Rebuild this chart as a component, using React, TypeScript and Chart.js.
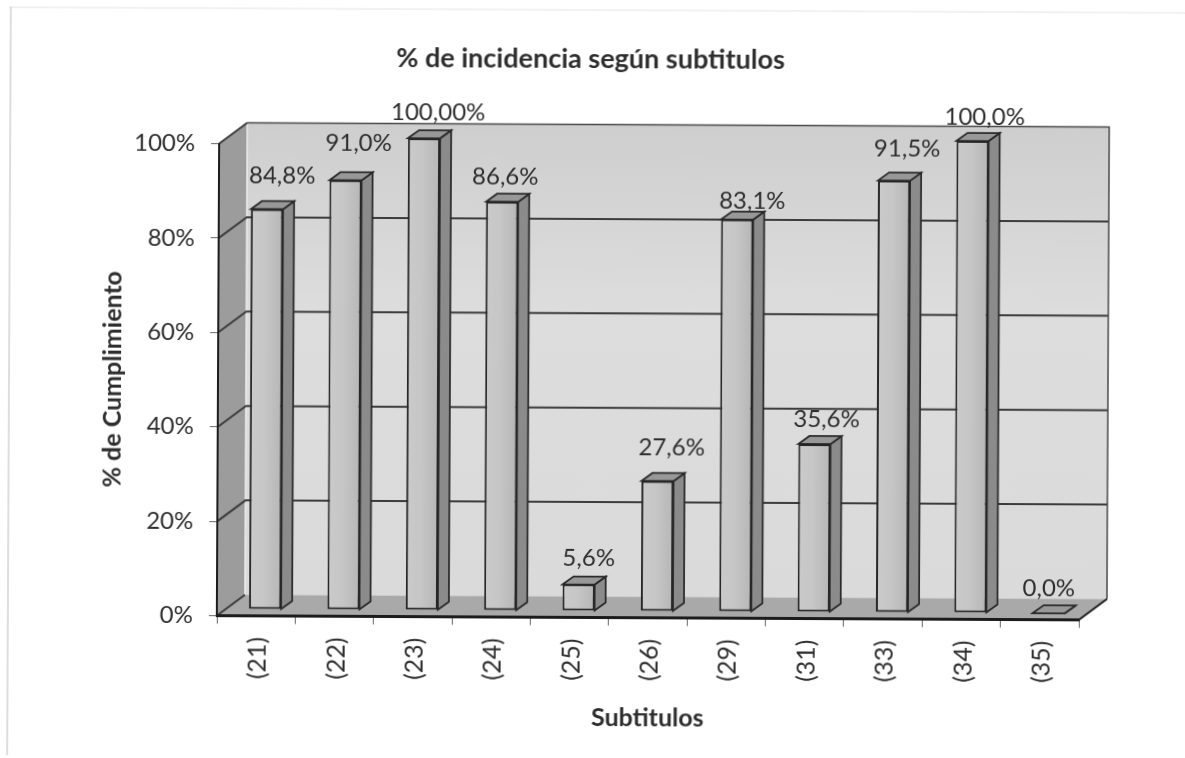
import React, { useEffect, useRef } from "react";
import { Chart, registerables } from "chart.js";

Chart.register(...registerables);

const categories = ["(21)", "(22)", "(23)", "(24)", "(25)", "(26)", "(29)", "(31)", "(33)", "(34)", "(35)"];
const values = [84.8, 91.0, 100, 86.6, 5.6, 27.6, 83.1, 35.6, 91.5, 100, 0];
const valueLabels = ["84,8%", "91,0%", "100,00%", "86,6%", "5,6%", "27,6%", "83,1%", "35,6%", "91,5%", "100,0%", "0,0%"];
// hand-placed label nudges, relative to each bar's front face
const labelNudgeX = [15, 13, 14, 3, 10, 14, 15, 12, 13, 12, 0];
const labelNudgeY = [33, 37, 26, 25, 26, 33, 19, 25, 32, 24, 25];

const FONT = "Lato, Carlito, 'Open Sans', sans-serif";
const INK = "#2e2e2e";
const WALL_DX = 28, WALL_DY = -21;   // depth of the chart box
const BAR_DX = 9, BAR_DY = -6.5;     // bar offset inside the box
const EXT_DX = 11, EXT_DY = -8;      // bar extrusion
const BAR_PERCENT = 0.41;

const box3d = {
  id: "box3d",
  beforeDraw(chart: any) {
    const { ctx } = chart;
    const x = chart.scales.x, y = chart.scales.y;
    const L = x.left, R = x.right, T = y.getPixelForValue(100), B = y.getPixelForValue(0);
    const bL = L + WALL_DX, bR = R + WALL_DX, bT = T + WALL_DY, bB = B + WALL_DY;
    ctx.save();
    // page frame from the scan
    ctx.lineWidth = 1;
    ctx.strokeStyle = "#e4e4e4";
    ctx.beginPath();
    ctx.moveTo(7, 10); ctx.lineTo(1185, 10);
    ctx.stroke();
    ctx.strokeStyle = "#bcbcbc";
    ctx.beginPath();
    ctx.moveTo(9, 758); ctx.lineTo(9, 10);
    ctx.stroke();
    // back wall
    const wall = ctx.createLinearGradient(0, bT, 0, bB);
    wall.addColorStop(0, "#cecece");
    wall.addColorStop(0.4, "#dddddd");
    wall.addColorStop(1, "#dadada");
    ctx.fillStyle = wall;
    ctx.fillRect(bL, bT, bR - bL, bB - bT);
    // left wall
    ctx.fillStyle = "#9c9c9c";
    ctx.beginPath();
    ctx.moveTo(L, T); ctx.lineTo(bL, bT); ctx.lineTo(bL, bB); ctx.lineTo(L, B);
    ctx.closePath(); ctx.fill();
    // floor
    ctx.fillStyle = "#a9a9a9";
    ctx.beginPath();
    ctx.moveTo(L, B); ctx.lineTo(bL, bB); ctx.lineTo(bR, bB); ctx.lineTo(R, B);
    ctx.closePath(); ctx.fill();
    // seam between left wall and back wall
    ctx.strokeStyle = "#ececec";
    ctx.lineWidth = 1.5;
    ctx.beginPath();
    ctx.moveTo(bL, bB); ctx.lineTo(bL, bT);
    ctx.stroke();
    // grid on the walls, from the axis ticks
    ctx.strokeStyle = "#3c3c3c";
    ctx.lineWidth = 2;
    for (const t of y.ticks) {
      const py = y.getPixelForValue(t.value);
      ctx.beginPath();
      ctx.moveTo(L, py); ctx.lineTo(bL, py + WALL_DY);
      if (t.value > 0 && t.value < 100) ctx.lineTo(bR, py + WALL_DY);
      ctx.stroke();
    }
    // wall outlines
    ctx.strokeStyle = "#4a4a4a";
    ctx.lineWidth = 1.5;
    ctx.beginPath();
    ctx.moveTo(bL, bT); ctx.lineTo(bR, bT); ctx.lineTo(bR, bB);
    ctx.stroke();
    ctx.strokeStyle = "#1c1c1c";
    ctx.lineWidth = 2;
    ctx.beginPath();
    ctx.moveTo(R, B); ctx.lineTo(bR, bB);
    ctx.stroke();
    ctx.restore();
  },
  beforeDatasetDraw(chart: any, args: any) {
    const { ctx } = chart;
    ctx.save();
    ctx.translate(BAR_DX, BAR_DY);
    ctx.lineJoin = "miter";
    for (const bar of args.meta.data) {
      const p = bar.getProps(["x", "y", "base", "width"], true);
      const l = p.x - p.width / 2, r = p.x + p.width / 2;
      ctx.strokeStyle = "#2a2a2a";
      ctx.lineWidth = 1.75;
      // right face
      ctx.fillStyle = "#8b8b8b";
      ctx.beginPath();
      ctx.moveTo(r, p.y); ctx.lineTo(r + EXT_DX, p.y + EXT_DY);
      ctx.lineTo(r + EXT_DX, p.base + EXT_DY); ctx.lineTo(r, p.base);
      ctx.closePath(); ctx.fill(); ctx.stroke();
      // top face
      ctx.fillStyle = "#989898";
      ctx.beginPath();
      ctx.moveTo(l, p.y); ctx.lineTo(l + EXT_DX, p.y + EXT_DY);
      ctx.lineTo(r + EXT_DX, p.y + EXT_DY); ctx.lineTo(r, p.y);
      ctx.closePath(); ctx.fill(); ctx.stroke();
    }
  },
  afterDatasetDraw(chart: any, args: any) {
    const { ctx } = chart;
    ctx.restore();
    ctx.save();
    ctx.fillStyle = INK;
    ctx.font = `24px ${FONT}`;
    ctx.textAlign = "center";
    ctx.textBaseline = "middle";
    args.meta.data.forEach((bar: any, i: number) => {
      const p = bar.getProps(["x", "y"], true);
      ctx.fillText(valueLabels[i], p.x + BAR_DX + labelNudgeX[i], p.y + BAR_DY - labelNudgeY[i]);
    });
    ctx.restore();
  },
};

// front face: slightly lighter on the left, darker on the right
function barFill(c: any) {
  const { chart, dataIndex } = c;
  const sx = chart.scales.x;
  if (!chart.chartArea || !sx || dataIndex === undefined) return "#c3c3c3";
  const cx = sx.getPixelForValue(dataIndex);
  const half = ((sx.right - sx.left) / categories.length) * BAR_PERCENT / 2;
  const g = chart.ctx.createLinearGradient(cx - half, 0, cx + half, 0);
  g.addColorStop(0, "#cacaca");
  g.addColorStop(0.45, "#c6c6c6");
  g.addColorStop(1, "#b6b6b6");
  return g;
}

export default function App() {
  const ref = useRef<HTMLCanvasElement>(null);
  useEffect(() => {
    const chart = new Chart(ref.current as HTMLCanvasElement, {
      type: "bar",
      data: {
        labels: categories,
        datasets: [{
          data: values,
          backgroundColor: barFill,
          borderColor: "#262626",
          borderWidth: 2,
          borderSkipped: false,
          barPercentage: BAR_PERCENT,
          categoryPercentage: 1,
          clip: false,
        } as any],
      },
      options: {
        responsive: false,
        animation: false,
        layout: { padding: { left: 98, right: 105, top: 0, bottom: 25 } },
        plugins: {
          legend: { display: false },
          tooltip: { enabled: false },
          title: {
            display: true,
            text: "% de incidencia según subtitulos",
            color: INK,
            font: { family: FONT, size: 27, weight: "bold", lineHeight: 1.2 },
            padding: { top: 43, bottom: 70.1 },
          },
        },
        scales: {
          x: {
            afterFit(s: any) { s.height = 115.5; },
            border: { color: "#1c1c1c", width: 3 },
            grid: { drawOnChartArea: false, drawTicks: true, tickLength: 8, tickColor: "#666666", tickWidth: 1, offset: true },
            ticks: { color: INK, font: { family: FONT, size: 25 }, minRotation: 90, maxRotation: 90, autoSkip: false, padding: 13, labelOffset: 2 },
            title: { display: true, text: "Subtitulos", color: INK, font: { family: FONT, size: 25, weight: "bold", lineHeight: 1.2 }, padding: 0 },
          },
          y: {
            min: 0,
            max: 100,
            afterFit(s: any) { s.width = 120; },
            border: { color: "#1c1c1c", width: 2 },
            grid: { drawOnChartArea: false, drawTicks: true, tickLength: 8, tickColor: "#666666", tickWidth: 1 },
            ticks: { stepSize: 20, color: INK, font: { family: FONT, size: 24 }, padding: 16, callback: (v: any) => `${v}%` },
            title: { display: true, text: "% de Cumplimiento", color: INK, font: { family: FONT, size: 25, weight: "bold", lineHeight: 1.2 }, padding: 0 },
          },
        },
      },
      plugins: [box3d],
    } as any);
    return () => chart.destroy();
  }, []);
  return (
    <div style={{ position: "fixed", inset: 0, overflow: "hidden", background: "#ffffff" }}>
      <canvas
        ref={ref}
        width={1185}
        height={758}
        style={{ display: "block", transform: "rotate(0.28deg)", transformOrigin: "50% 50%", filter: "blur(0.4px)" }}
      />
    </div>
  );
}
